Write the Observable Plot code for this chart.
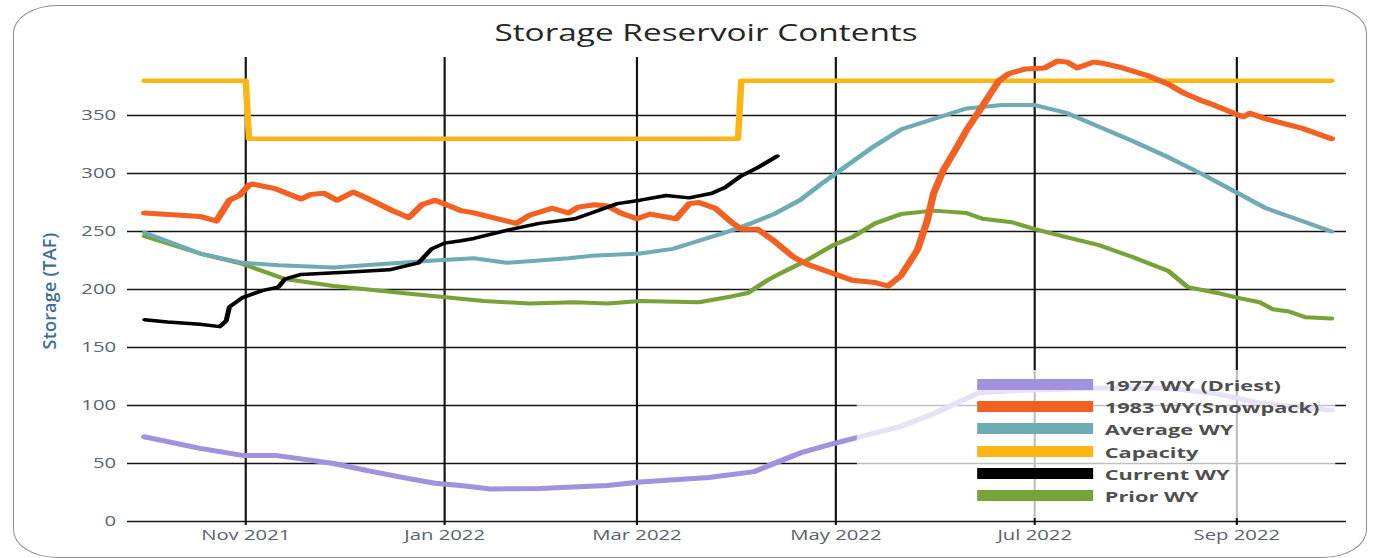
<!DOCTYPE html>
<html>
<head>
<meta charset="utf-8">
<script src="https://cdn.jsdelivr.net/npm/d3@7"></script>
<script src="https://cdn.jsdelivr.net/npm/@observablehq/plot@0.6"></script>
<style>
  html, body { margin: 0; padding: 0; background: #fff; }
  #wrap { position: relative; width: 1373px; height: 558px; overflow: hidden;
          font-family: "Segoe UI", "Open Sans", "Noto Sans", sans-serif; }
  #frame { position: absolute; left: 13px; top: 5px; width: 1354px; height: 553px;
           border: 1.3px solid #8c8c8c; border-radius: 44px / 28px; box-sizing: border-box; }
  #stretch { position: absolute; left: 0; top: 0; width: 947px; height: 558px;
             transform: scaleX(1.4498); transform-origin: 0 0; }
  #title { position: absolute; left: 487px; top: 21px; transform: translateX(-50%);
           font-size: 23px; line-height: 23px; color: #262626; white-space: nowrap; }
  #ylabel { position: absolute; left: 49px; top: 291px; transform: translate(-50%, -50%) rotate(-90deg);
            font-size: 18px; font-weight: 600; letter-spacing: 0.2px; color: #3e6e94; white-space: nowrap; }
  #legend { position: absolute; left: 591px; top: 370px; width: 330px; height: 148px;
            background: rgba(255,255,255,0.73); }
  .item { position: absolute; left: 0; height: 22px; width: 330px; }
  .sw { position: absolute; left: 83px; top: 5px; width: 80px; height: 11px; }
  .lab { position: absolute; left: 171px; top: 0; font-size: 15px; line-height: 22px; font-weight: 700;
         color: #4f4f4f; white-space: nowrap; }
</style>
</head>
<body>
<div id="wrap">
  <div id="frame"></div>
  <div id="stretch">
    <div id="chart"></div>
    <div id="title">Storage Reservoir Contents</div>
    <div id="legend"></div>
  </div>
  <div id="ylabel">Storage (TAF)</div>
</div>
<script>
// ---- data (day of water year, counted from 1 Oct 2021; storage in TAF) ----
const seriesNames  = ["1977 WY (Driest)", "1983 WY(Snowpack)", "Average WY", "Capacity", "Current WY", "Prior WY"];
const seriesColors = ["#a292dd", "#f26122", "#6eabb5", "#fdb414", "#000000", "#76a238"];

const days1977    = [0, 17, 30, 40, 48, 58, 68, 79, 89, 97, 106, 121, 142, 152, 173, 187, 193, 201, 211, 218, 232, 242, 256, 268, 293, 314, 329, 342, 355, 364];
const storage1977 = [73, 63, 57, 57, 54, 50, 44, 38, 33, 31, 28, 28.5, 31, 34, 38, 43, 50, 59, 67, 72, 82, 93, 111, 113, 115, 115, 110, 102, 98, 96];

const days1983    = [0, 17, 22, 26, 29, 32, 33, 40, 48, 51, 55, 59, 64, 68, 76, 81, 85, 89, 97, 101, 114, 118, 125, 130, 133, 138, 142, 146, 151, 155, 163, 167, 170, 175, 180, 183, 188, 193, 199, 203, 211, 217, 224, 228, 232, 237, 240, 242, 245, 249, 252, 256, 262, 265, 270, 276, 280, 283, 286, 291, 294, 300, 308, 314, 319, 324, 328, 334, 337, 339, 344, 355, 364];
const storage1983 = [266, 263, 259, 277, 281, 290, 291, 287, 278, 282, 283, 277, 284, 279, 268, 262, 273, 277, 268, 266, 257, 264, 270, 266, 271, 273, 272, 266, 261, 265, 261, 274, 275, 270, 258, 252, 252, 242, 228, 222, 214, 208, 206, 203, 212, 234, 259, 283, 303, 322, 337, 354, 380, 386, 390, 391, 397, 396, 391, 396, 395, 391, 384, 377, 369, 363, 359, 352, 349, 352, 347, 339, 330];

const daysAvg     = [0, 17, 30, 41, 58, 73, 89, 101, 111, 121, 130, 137, 152, 162, 170, 178, 186, 193, 201, 208, 213, 224, 232, 242, 252, 263, 273, 283, 293, 303, 314, 324, 334, 344, 355, 364];
const storageAvg  = [249, 231, 223, 221, 219, 222, 225, 227, 223, 225, 227, 229, 231, 235, 242, 249, 257, 265, 277, 292, 302, 324, 338, 347, 356, 359, 359, 352, 340, 328, 314, 300, 285, 270, 259, 250];

const daysCap     = [0, 31, 32, 182, 183, 364];
const storageCap  = [380, 380, 330, 330, 380, 380];

const daysCur     = [0, 7, 17, 23, 25, 26, 30, 36, 41, 43, 48, 63, 75, 84, 88, 92, 97, 101, 111, 121, 132, 137, 145, 152, 160, 167, 174, 178, 183, 188, 194];
const storageCur  = [174, 172, 170, 168, 173, 185, 193, 199, 202, 209, 213, 215, 217, 223, 235, 240, 242, 244, 251, 257, 261, 266, 274, 277, 281, 279, 283, 288, 298, 305, 315];

const daysPrior    = [0, 17, 30, 43, 58, 79, 97, 104, 118, 132, 142, 152, 170, 180, 185, 191, 195, 203, 211, 217, 224, 232, 242, 252, 257, 266, 273, 283, 293, 303, 314, 320, 329, 335, 342, 346, 351, 356, 364];
const storagePrior = [246, 231, 222, 209, 203, 197, 192, 190, 188, 189, 188, 190, 189, 194, 197, 208, 214, 225, 238, 245, 257, 265, 268, 266, 261, 258, 252, 245, 238, 228, 216, 202, 197, 193, 189, 183, 181, 176, 175];

const xTickDates = ["2021-11-01", "2022-01-01", "2022-03-01", "2022-05-01", "2022-07-01", "2022-09-01"];
const yTicks = [0, 50, 100, 150, 200, 250, 300, 350];

// ---- build ----
const wyStart = Date.UTC(2021, 9, 1);
const toDate = d => new Date(wyStart + d * 864e5);
const xTicks = xTickDates.map(s => new Date(s + "T00:00:00Z"));
const series = [
  [days1977, storage1977], [days1983, storage1983], [daysAvg, storageAvg],
  [daysCap, storageCap], [daysCur, storageCur], [daysPrior, storagePrior]
].map(([ds, vs], i) => ({
  name: seriesNames[i], color: seriesColors[i],
  rows: ds.map((d, j) => ({date: toDate(d), value: vs[j]}))
}));
const widths = [5, 5, 4, 4.5, 3.5, 4];
const drawOrder = [3, 0, 5, 2, 1, 4];

const chart = Plot.plot({
  width: 947, height: 558,
  marginLeft: 87.6, marginRight: 18.6, marginTop: 57, marginBottom: 37,
  style: {fontFamily: '"Segoe UI", "Open Sans", sans-serif', fontSize: "14px", background: "transparent", overflow: "visible"},
  x: {type: "utc", domain: [toDate(-5.2), toDate(368.7)], label: null},
  y: {domain: [0, 400], label: null},
  marks: [
    Plot.gridY(yTicks, {stroke: "#141414", strokeOpacity: 1, strokeWidth: 1.6}),
    Plot.gridX(xTicks, {stroke: "#141414", strokeOpacity: 1, strokeWidth: 1.5}),
    Plot.axisY(yTicks, {tickSize: 0, tickPadding: 8, label: null, fill: "#5a6370", fontSize: 14}),
    Plot.axisX(xTicks, {tickSize: 4, tickPadding: 5, stroke: "#141414", strokeWidth: 1.5, fill: "#5a6370",
                        tickFormat: d3.utcFormat("%b %Y"), label: null, fontSize: 14}),
    ...drawOrder.map(i => Plot.line(series[i].rows, {
      x: "date", y: "value", stroke: series[i].color, strokeWidth: widths[i],
      strokeLinejoin: "round", strokeLinecap: "round"
    }))
  ]
});
document.getElementById("chart").append(chart);

// legend
const legend = document.getElementById("legend");
series.forEach((s, i) => {
  const item = document.createElement("div");
  item.className = "item";
  item.style.top = (4 + i * 22.2) + "px";
  const sw = document.createElement("div");
  sw.className = "sw"; sw.style.background = s.color;
  const lab = document.createElement("div");
  lab.className = "lab"; lab.textContent = s.name;
  item.append(sw, lab);
  legend.append(item);
});
</script>
</body>
</html>
